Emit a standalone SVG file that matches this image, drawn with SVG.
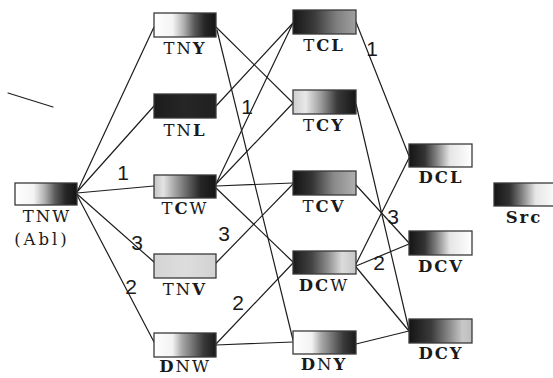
<svg xmlns="http://www.w3.org/2000/svg" width="553" height="378" viewBox="0 0 553 378">
  <style>
    .box { stroke: #3a3a3a; stroke-width: 1.3; }
    .edge { stroke: #1e1e1e; stroke-width: 1.2; fill: none; stroke-linecap: round; }
    .lbl { font-family: "DejaVu Serif", "Liberation Mono", "Courier New", serif; font-size: 16.5px; fill: #1a1a1a; text-anchor: middle; letter-spacing: 2px; }
    .wide { letter-spacing: 3px; }
    .b { font-weight: bold; }
    .num { font-family: "Liberation Sans", Arial, sans-serif; font-size: 21px; fill: #1a1a1a; text-anchor: middle; }
  </style>
  <defs>
    <!-- white on the left, dark on the right -->
    <linearGradient id="gWD" x1="0" x2="1" y1="0" y2="0">
      <stop offset="0" stop-color="#ffffff"/>
      <stop offset="0.3" stop-color="#f4f4f4"/>
      <stop offset="0.48" stop-color="#b0b0b0"/>
      <stop offset="0.65" stop-color="#5a5a5a"/>
      <stop offset="0.82" stop-color="#262626"/>
      <stop offset="1" stop-color="#131313"/>
    </linearGradient>
    <linearGradient id="gWD2" x1="0" x2="1" y1="0" y2="0">
      <stop offset="0" stop-color="#ffffff"/>
      <stop offset="0.3" stop-color="#f2f2f2"/>
      <stop offset="0.45" stop-color="#a8a8a8"/>
      <stop offset="0.6" stop-color="#7a7a7a"/>
      <stop offset="0.8" stop-color="#3a3a3a"/>
      <stop offset="1" stop-color="#1a1a1a"/>
    </linearGradient>
    <!-- nearly solid dark -->
    <linearGradient id="gDark" x1="0" x2="1" y1="0" y2="0">
      <stop offset="0" stop-color="#1c1c1c"/>
      <stop offset="0.5" stop-color="#262626"/>
      <stop offset="1" stop-color="#202020"/>
    </linearGradient>
    <!-- light grey on the left, dark on the right -->
    <linearGradient id="gLD" x1="0" x2="1" y1="0" y2="0">
      <stop offset="0" stop-color="#c4c4c4"/>
      <stop offset="0.15" stop-color="#e4e4e4"/>
      <stop offset="0.3" stop-color="#b0b0b0"/>
      <stop offset="0.5" stop-color="#707070"/>
      <stop offset="0.75" stop-color="#262626"/>
      <stop offset="1" stop-color="#141414"/>
    </linearGradient>
    <linearGradient id="gLD2" x1="0" x2="1" y1="0" y2="0">
      <stop offset="0" stop-color="#cfcfcf"/>
      <stop offset="0.2" stop-color="#e8e8e8"/>
      <stop offset="0.45" stop-color="#9a9a9a"/>
      <stop offset="0.7" stop-color="#3a3a3a"/>
      <stop offset="1" stop-color="#151515"/>
    </linearGradient>
    <!-- uniform light grey -->
    <linearGradient id="gLight" x1="0" x2="1" y1="0" y2="0">
      <stop offset="0" stop-color="#d4d4d4"/>
      <stop offset="0.5" stop-color="#dddddd"/>
      <stop offset="1" stop-color="#d2d2d2"/>
    </linearGradient>
    <!-- dark on the left, mid grey on the right -->
    <linearGradient id="gDM" x1="0" x2="1" y1="0" y2="0">
      <stop offset="0" stop-color="#161616"/>
      <stop offset="0.35" stop-color="#3c3c3c"/>
      <stop offset="0.7" stop-color="#808080"/>
      <stop offset="1" stop-color="#a0a0a0"/>
    </linearGradient>
    <linearGradient id="gDM2" x1="0" x2="1" y1="0" y2="0">
      <stop offset="0" stop-color="#141414"/>
      <stop offset="0.3" stop-color="#333333"/>
      <stop offset="0.65" stop-color="#8a8a8a"/>
      <stop offset="1" stop-color="#b0b0b0"/>
    </linearGradient>
    <!-- dark on the left, light on the right -->
    <linearGradient id="gDL" x1="0" x2="1" y1="0" y2="0">
      <stop offset="0" stop-color="#1a1a1a"/>
      <stop offset="0.3" stop-color="#444444"/>
      <stop offset="0.55" stop-color="#8c8c8c"/>
      <stop offset="0.78" stop-color="#dcdcdc"/>
      <stop offset="1" stop-color="#c6c6c6"/>
    </linearGradient>
    <!-- dark on the left, white on the right -->
    <linearGradient id="gDW" x1="0" x2="1" y1="0" y2="0">
      <stop offset="0" stop-color="#151515"/>
      <stop offset="0.25" stop-color="#333333"/>
      <stop offset="0.45" stop-color="#888888"/>
      <stop offset="0.65" stop-color="#e6e6e6"/>
      <stop offset="1" stop-color="#ffffff"/>
    </linearGradient>
    <linearGradient id="gDG" x1="0" x2="1" y1="0" y2="0">
      <stop offset="0" stop-color="#141414"/>
      <stop offset="0.35" stop-color="#3a3a3a"/>
      <stop offset="0.65" stop-color="#8e8e8e"/>
      <stop offset="0.85" stop-color="#c8c8c8"/>
      <stop offset="1" stop-color="#bdbdbd"/>
    </linearGradient>
  </defs>

  <rect width="553" height="378" fill="#ffffff"/>

  <!-- stray stroke, upper left -->
  <line class="edge" x1="8" y1="93" x2="53" y2="107"/>

  <g id="connectors">
    <!-- from TNW -->
    <line class="edge" x1="77" y1="192" x2="154" y2="27"/>
    <line class="edge" x1="77" y1="192" x2="154" y2="106"/>
    <line class="edge" x1="77" y1="193" x2="154" y2="186"/>
    <line class="edge" x1="77" y1="194" x2="154" y2="262"/>
    <line class="edge" x1="77" y1="195" x2="154" y2="342"/>
    <!-- second column to third -->
    <line class="edge" x1="216" y1="27" x2="293" y2="103"/>
    <line class="edge" x1="217" y1="30" x2="293" y2="340"/>
    <line class="edge" x1="216" y1="106" x2="293" y2="23"/>
    <line class="edge" x1="216" y1="184" x2="293" y2="23"/>
    <line class="edge" x1="216" y1="184" x2="293" y2="103"/>
    <line class="edge" x1="216" y1="186" x2="293" y2="183"/>
    <line class="edge" x1="216" y1="188" x2="293" y2="262"/>
    <line class="edge" x1="216" y1="263" x2="293" y2="184"/>
    <line class="edge" x1="216" y1="344" x2="293" y2="263"/>
    <line class="edge" x1="216" y1="345" x2="293" y2="342"/>
    <!-- third column to fourth -->
    <line class="edge" x1="356" y1="22" x2="409" y2="156"/>
    <line class="edge" x1="356" y1="104" x2="409" y2="330"/>
    <line class="edge" x1="356" y1="185" x2="409" y2="243"/>
    <line class="edge" x1="356" y1="264" x2="409" y2="158"/>
    <line class="edge" x1="356" y1="266" x2="409" y2="244"/>
    <line class="edge" x1="356" y1="267" x2="409" y2="331"/>
    <line class="edge" x1="356" y1="344" x2="409" y2="331"/>
  </g>

  <!-- edge weights -->
  <g id="weights">
    <text class="num" x="123" y="180">1</text>
    <text class="num" x="137" y="250">3</text>
    <text class="num" x="131" y="294">2</text>
    <text class="num" x="247" y="114">1</text>
    <text class="num" x="224" y="241">3</text>
    <text class="num" x="238" y="310">2</text>
    <text class="num" x="372" y="56">1</text>
    <text class="num" x="393" y="224">3</text>
    <text class="num" x="379" y="270">2</text>
  </g>

  <g id="TNW">
    <rect class="box" x="15" y="183" width="62" height="22" fill="url(#gWD)"/>
    <text class="lbl" x="47" y="222">TNW</text>
    <text class="lbl wide" x="42" y="245">(Abl)</text>
  </g>
  <g id="TNY">
    <rect class="box" x="154" y="13" width="62" height="24" fill="url(#gWD)"/>
    <text class="lbl" x="185" y="54">TN<tspan class="b">Y</tspan></text>
  </g>
  <g id="TNL">
    <rect class="box" x="154" y="94" width="62" height="24" fill="url(#gDark)"/>
    <text class="lbl" x="185" y="136">TN<tspan class="b">L</tspan></text>
  </g>
  <g id="TCW">
    <rect class="box" x="154" y="175" width="62" height="23" fill="url(#gLD)"/>
    <text class="lbl" x="185" y="214">T<tspan class="b">C</tspan>W</text>
  </g>
  <g id="TNV">
    <rect class="box" x="154" y="254" width="62" height="24" fill="url(#gLight)"/>
    <text class="lbl" x="185" y="295">TN<tspan class="b">V</tspan></text>
  </g>
  <g id="DNW">
    <rect class="box" x="154" y="333" width="62" height="24" fill="url(#gWD2)"/>
    <text class="lbl" x="185" y="372"><tspan class="b">D</tspan>NW</text>
  </g>
  <g id="TCL">
    <rect class="box" x="293" y="10" width="63" height="24" fill="url(#gDM)"/>
    <text class="lbl" x="324" y="51">T<tspan class="b">CL</tspan></text>
  </g>
  <g id="TCY">
    <rect class="box" x="293" y="90" width="63" height="24" fill="url(#gLD2)"/>
    <text class="lbl" x="324" y="131">T<tspan class="b">CY</tspan></text>
  </g>
  <g id="TCV">
    <rect class="box" x="293" y="171" width="63" height="24" fill="url(#gDM2)"/>
    <text class="lbl" x="324" y="212">T<tspan class="b">CV</tspan></text>
  </g>
  <g id="DCW">
    <rect class="box" x="293" y="251" width="63" height="23" fill="url(#gDL)"/>
    <text class="lbl" x="324" y="291"><tspan class="b">DC</tspan>W</text>
  </g>
  <g id="DNY">
    <rect class="box" x="293" y="331" width="63" height="23" fill="url(#gWD2)"/>
    <text class="lbl" x="324" y="370"><tspan class="b">D</tspan>N<tspan class="b">Y</tspan></text>
  </g>
  <g id="DCL">
    <rect class="box" x="409" y="144" width="63" height="23" fill="url(#gDW)"/>
    <text class="lbl b" x="441" y="183">DCL</text>
  </g>
  <g id="DCV">
    <rect class="box" x="409" y="231" width="63" height="24" fill="url(#gDW)"/>
    <text class="lbl b" x="441" y="272">DCV</text>
  </g>
  <g id="DCY">
    <rect class="box" x="409" y="319" width="63" height="24" fill="url(#gDG)"/>
    <text class="lbl b" x="441" y="359">DCY</text>
  </g>
  <g id="Src">
    <rect class="box" x="494" y="183" width="64" height="23" fill="url(#gDW)"/>
    <text class="lbl b" x="524" y="223">Src</text>
  </g>
</svg>
